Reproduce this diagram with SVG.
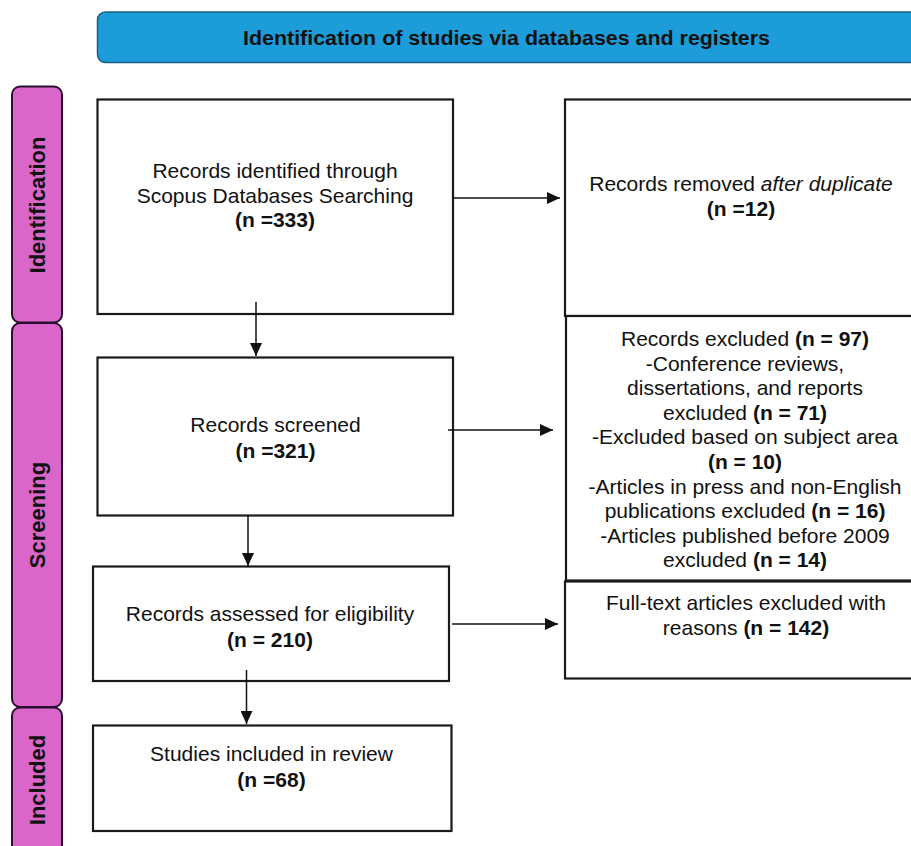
<svg xmlns="http://www.w3.org/2000/svg" width="911" height="846" viewBox="0 0 911 846">
<defs>
<style>
.box{fill:#fff;stroke:#1a1a1a;stroke-width:2.2}
.phase{fill:#d966c8;stroke:#2a1030;stroke-width:2}
.hdr{fill:#1c9cd8;stroke:#1a5f85;stroke-width:1.5}
.t{font-family:"Liberation Sans",Arial,sans-serif;font-size:21px;fill:#111;text-anchor:middle}
.b{font-weight:bold}
.ph{font-family:"Liberation Sans",Arial,sans-serif;font-size:22px;font-weight:bold;fill:#111;text-anchor:middle}
.ht{font-family:"Liberation Sans",Arial,sans-serif;font-size:20px;font-weight:bold;fill:#111;text-anchor:middle}
.c{stroke:#111;stroke-width:1.5;fill:none;marker-end:url(#ah)}
</style>
<marker id="ah" markerUnits="userSpaceOnUse" markerWidth="13" markerHeight="12" viewBox="0 0 13 12" refX="13" refY="6" orient="auto">
<path d="M0,0 L13,6 L0,12 z" fill="#111"/>
</marker>
</defs>

<g id="header">
<rect class="hdr" x="97.5" y="12" width="830" height="50.5" rx="8"/>
<text class="ht" x="506.5" y="44.5" textLength="527" lengthAdjust="spacingAndGlyphs">Identification of studies via databases and registers</text>
</g>

<g id="phase-identification">
<rect class="phase" x="12" y="86.5" width="50" height="236" rx="8"/>
<text class="ph" transform="translate(45,205) rotate(-90)">Identification</text>
</g>
<g id="phase-screening">
<rect class="phase" x="12" y="323" width="50" height="384" rx="8"/>
<text class="ph" transform="translate(45,515) rotate(-90)">Screening</text>
</g>
<g id="phase-included">
<rect class="phase" x="12" y="707.5" width="50" height="160" rx="8"/>
<text class="ph" transform="translate(45,780) rotate(-90)">Included</text>
</g>

<g id="records-identified">
<rect class="box" x="97.5" y="99.5" width="355.5" height="214.5"/>
<text class="t" x="275" y="177.5">Records identified through</text>
<text class="t" x="275" y="202.5">Scopus Databases Searching</text>
<text class="t b" x="275" y="227">(n =333)</text>
</g>

<g id="records-removed">
<rect class="box" x="565" y="99.5" width="370" height="216.5"/>
<text class="t" x="741" y="190.5">Records removed <tspan font-style="italic">after duplicate</tspan></text>
<text class="t b" x="741" y="215.5">(n =12)</text>
</g>

<g id="records-screened">
<rect class="box" x="97.5" y="357.5" width="355.5" height="158"/>
<text class="t" x="275.5" y="432">Records screened</text>
<text class="t b" x="275.5" y="458">(n =321)</text>
</g>

<g id="records-excluded">
<rect class="box" x="566" y="316" width="370" height="264.5"/>
<text class="t" x="745" y="346">Records excluded <tspan class="b">(n = 97)</tspan></text>
<text class="t" x="745" y="370.6">-Conference reviews,</text>
<text class="t" x="745" y="395.2">dissertations, and reports</text>
<text class="t" x="745" y="419.8">excluded <tspan class="b">(n = 71)</tspan></text>
<text class="t" x="745" y="444.4">-Excluded based on subject area</text>
<text class="t b" x="745" y="469">(n = 10)</text>
<text class="t" x="745" y="493.6">-Articles in press and non-English</text>
<text class="t" x="745" y="518.2">publications excluded <tspan class="b">(n = 16)</tspan></text>
<text class="t" x="745" y="542.8">-Articles published before 2009</text>
<text class="t" x="745" y="567.4">excluded <tspan class="b">(n = 14)</tspan></text>
</g>

<g id="records-assessed">
<rect class="box" x="93" y="566.5" width="356" height="114.5"/>
<text class="t" x="270" y="620.5">Records assessed for eligibility</text>
<text class="t b" x="270" y="646.5">(n = 210)</text>
</g>

<g id="fulltext-excluded">
<rect class="box" x="565" y="581.5" width="370" height="97"/>
<text class="t" x="746" y="610">Full-text articles excluded with</text>
<text class="t" x="746" y="635">reasons <tspan class="b">(n = 142)</tspan></text>
</g>

<g id="studies-included">
<rect class="box" x="93" y="725.5" width="358.5" height="105.5"/>
<text class="t" x="271.5" y="761">Studies included in review</text>
<text class="t b" x="271.5" y="787">(n =68)</text>
</g>

<g id="connectors">
<line class="c" x1="453" y1="198" x2="560" y2="198"/>
<line class="c" x1="256" y1="302" x2="256" y2="356"/>
<line class="c" x1="448" y1="430" x2="553" y2="430"/>
<line class="c" x1="248" y1="516" x2="248" y2="566"/>
<line class="c" x1="452" y1="624" x2="558" y2="624"/>
<line class="c" x1="246.5" y1="670" x2="246.5" y2="724"/>
</g>
</svg>
